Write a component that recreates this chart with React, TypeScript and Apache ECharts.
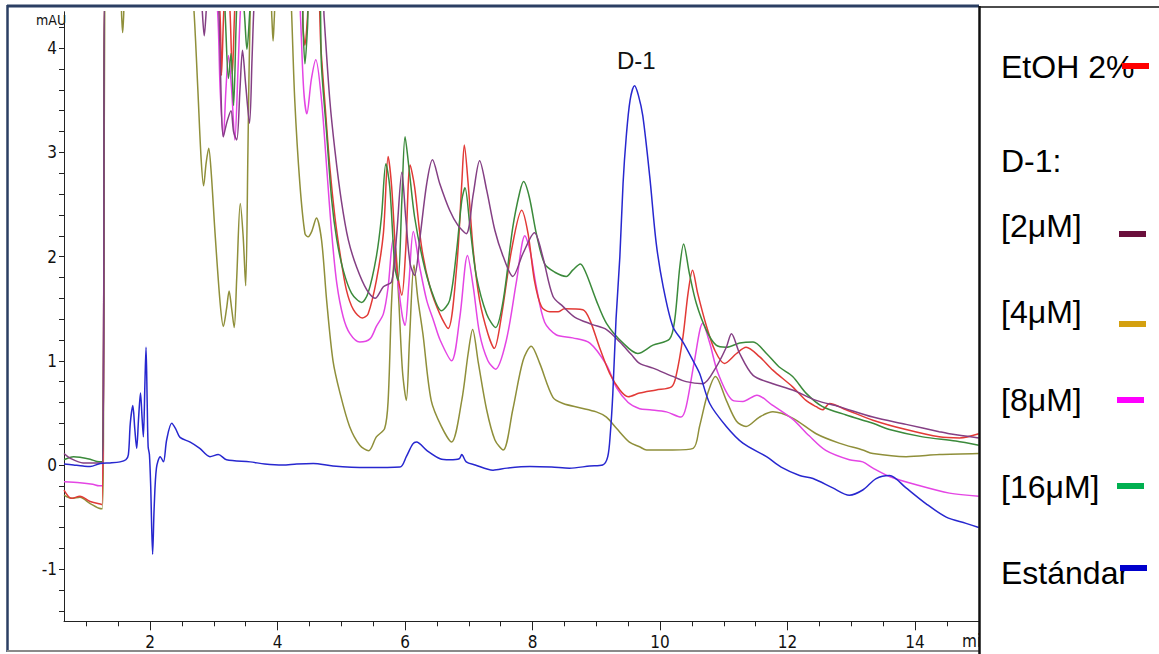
import React, { useEffect, useRef } from "react";
import * as echarts from "echarts";

// Retention time (min) vs absorbance (mAU). Values of 4.6 mark points beyond the top of the axis.
const estandar: number[][] = [
  [0.65, 0.01], [0.8, 0.0], [0.95, -0.01], [1.06, -0.015], [1.22, 0.015], [1.37, 0.02], [1.53, 0.03],
  [1.62, 0.05], [1.66, 0.1], [1.69, 0.4], [1.73, 0.57], [1.76, 0.35], [1.79, 0.16], [1.82, 0.45],
  [1.85, 0.69], [1.875, 0.45], [1.895, 0.27], [1.92, 0.8], [1.937, 1.13], [1.955, 0.6], [1.97, 0.175],
  [1.99, 0.1], [2.01, -0.2], [2.04, -0.857], [2.065, -0.4], [2.1, -0.03], [2.16, 0.08], [2.21, 0.03],
  [2.26, 0.24], [2.34, 0.4], [2.4, 0.35], [2.47, 0.265], [2.63, 0.22], [2.78, 0.16], [2.94, 0.08],
  [3.07, 0.1], [3.2, 0.05], [3.57, 0.03], [3.8, 0.01], [4.08, 0.0], [4.3, 0.01], [4.56, 0.015],
  [4.87, -0.01], [5.4, -0.025], [5.92, -0.02], [6.02, 0.08], [6.12, 0.2], [6.18, 0.22], [6.34, 0.14],
  [6.55, 0.06], [6.7, 0.05], [6.85, 0.06], [6.89, 0.1], [6.96, 0.03], [7.1, 0.0], [7.38, -0.05],
  [7.6, -0.03], [7.96, -0.015], [8.3, -0.02], [8.58, -0.03], [8.9, -0.01], [9.1, 0.0], [9.18, 0.08],
  [9.22, 0.3], [9.26, 0.69], [9.31, 1.4], [9.37, 2.0], [9.42, 2.7], [9.47, 3.15], [9.53, 3.5],
  [9.6, 3.64], [9.66, 3.55], [9.73, 3.35], [9.84, 2.76], [9.94, 2.13], [10.05, 1.71], [10.2, 1.33],
  [10.36, 1.18], [10.52, 1.0], [10.62, 0.88], [10.78, 0.59], [11.04, 0.37], [11.3, 0.21], [11.67, 0.08],
  [11.9, -0.02], [12.19, -0.1], [12.4, -0.13], [12.71, -0.22], [12.97, -0.29], [13.18, -0.24],
  [13.39, -0.13], [13.6, -0.1], [13.86, -0.22], [14.17, -0.37], [14.49, -0.5], [14.8, -0.56], [15.0, -0.6],
];

const etoh: number[][] = [
  [0.65, -0.24], [0.77, -0.32], [0.9, -0.3], [1.06, -0.35], [1.22, -0.375], [1.245, -0.38], [1.27, 1.0],
  [1.29, 4.6], [3.0, 4.6], [3.09, 4.4], [3.12, 3.74], [3.16, 4.4], [3.2, 4.6], [3.25, 4.4], [3.29, 3.75],
  [3.33, 4.4], [3.36, 4.6], [4.38, 4.6], [4.4, 4.2], [4.43, 4.03], [4.47, 4.3], [4.5, 4.6], [4.62, 4.6],
  [4.68, 4.0], [4.74, 3.5], [4.82, 2.86], [4.9, 2.38], [4.98, 2.03], [5.08, 1.68], [5.19, 1.49],
  [5.33, 1.41], [5.42, 1.45], [5.55, 1.77], [5.66, 2.22], [5.735, 2.96], [5.79, 2.67], [5.87, 1.9],
  [5.95, 1.63], [6.01, 2.06], [6.08, 2.88], [6.15, 2.67], [6.26, 2.09], [6.39, 1.71], [6.545, 1.45],
  [6.675, 1.31], [6.81, 1.9], [6.89, 2.7], [6.93, 3.07], [6.99, 2.7], [7.07, 2.06], [7.17, 1.58],
  [7.3, 1.26], [7.4, 1.12], [7.51, 1.42], [7.67, 2.06], [7.83, 2.445], [7.93, 2.22], [8.03, 1.77],
  [8.14, 1.52], [8.27, 1.47], [8.4, 1.47], [8.5, 1.5], [8.79, 1.49], [8.9, 1.39], [9.05, 1.13],
  [9.21, 0.88], [9.37, 0.72], [9.5, 0.655], [9.68, 0.69], [9.94, 0.72], [10.18, 0.75], [10.25, 0.85],
  [10.36, 1.23], [10.44, 1.65], [10.51, 1.87], [10.59, 1.65], [10.73, 1.33], [10.86, 1.1], [11.01, 0.975],
  [11.2, 1.07], [11.35, 1.13], [11.56, 1.04], [11.77, 0.91], [12.08, 0.75], [12.29, 0.62], [12.45, 0.56],
  [12.55, 0.53], [12.66, 0.59], [12.92, 0.53], [13.34, 0.43], [13.86, 0.34], [14.38, 0.27], [14.7, 0.26],
  [15.0, 0.3],
];

const conc2: number[][] = [
  [0.65, 0.11], [0.75, 0.064], [0.95, 0.02], [1.1, 0.02], [1.245, 0.02], [1.27, 1.0], [1.29, 4.6],
  [2.8, 4.6], [2.82, 4.35], [2.85, 4.12], [2.88, 4.35], [2.9, 4.6], [3.05, 4.6], [3.08, 4.35],
  [3.15, 3.15], [3.21, 3.3], [3.27, 3.4], [3.31, 3.2], [3.36, 3.12], [3.41, 3.6], [3.45, 3.98],
  [3.5, 3.65], [3.56, 3.28], [3.6, 3.9], [3.63, 4.4], [3.66, 4.6], [4.7, 4.6], [4.73, 4.3], [4.82, 3.5],
  [4.9, 3.02], [5.0, 2.54], [5.11, 2.16], [5.24, 1.9], [5.4, 1.68], [5.53, 1.6], [5.66, 1.71],
  [5.79, 1.76], [5.87, 2.22], [5.95, 2.81], [6.01, 2.38], [6.08, 1.93], [6.15, 1.82], [6.23, 2.16],
  [6.34, 2.7], [6.43, 2.93], [6.545, 2.7], [6.7, 2.445], [6.83, 2.3], [6.96, 2.22], [7.07, 2.6],
  [7.17, 2.92], [7.28, 2.64], [7.41, 2.25], [7.54, 2.0], [7.69, 1.81], [7.85, 2.03], [8.03, 2.23],
  [8.16, 2.0], [8.32, 1.62], [8.48, 1.52], [8.66, 1.42], [8.93, 1.35], [9.16, 1.3], [9.37, 1.18],
  [9.55, 1.06], [9.68, 0.975], [9.89, 0.93], [10.2, 0.85], [10.41, 0.8], [10.67, 0.78], [10.88, 0.94],
  [11.04, 1.13], [11.12, 1.26], [11.25, 1.07], [11.46, 0.86], [11.77, 0.78], [12.08, 0.72],
  [12.45, 0.62], [12.81, 0.56], [13.34, 0.46], [13.86, 0.39], [14.38, 0.32], [14.54, 0.3], [15.0, 0.26],
];

const conc4: number[][] = [
  [0.65, -0.29], [0.77, -0.32], [0.9, -0.31], [1.06, -0.37], [1.2, -0.415], [1.25, -0.42], [1.27, 0.5],
  [1.29, 4.6], [1.53, 4.6], [1.555, 4.3], [1.57, 4.15], [1.585, 4.3], [1.61, 4.6], [2.65, 4.6],
  [2.69, 4.35], [2.75, 3.6], [2.8, 2.95], [2.84, 2.68], [2.88, 2.9], [2.92, 3.04], [2.96, 2.8],
  [3.02, 2.22], [3.1, 1.55], [3.15, 1.33], [3.2, 1.5], [3.24, 1.67], [3.28, 1.5], [3.32, 1.32],
  [3.36, 1.8], [3.415, 2.51], [3.46, 2.2], [3.5, 1.72], [3.535, 3.0], [3.57, 4.35], [3.6, 4.6],
  [3.88, 4.6], [3.91, 4.3], [3.93, 4.07], [3.95, 4.3], [3.98, 4.6], [4.2, 4.6], [4.22, 4.35],
  [4.27, 3.5], [4.35, 2.7], [4.43, 2.22], [4.48, 2.19], [4.535, 2.24], [4.61, 2.37], [4.69, 2.16],
  [4.77, 1.58], [4.87, 1.0], [4.98, 0.69], [5.13, 0.37], [5.29, 0.19], [5.43, 0.137], [5.55, 0.27],
  [5.68, 0.35], [5.735, 0.62], [5.79, 1.58], [5.85, 2.1], [5.9, 1.6], [5.96, 0.9], [6.02, 0.62],
  [6.07, 1.2], [6.14, 1.92], [6.2, 1.6], [6.28, 1.26], [6.41, 0.62], [6.57, 0.37], [6.73, 0.22],
  [6.89, 0.62], [6.99, 1.07], [7.06, 1.3], [7.15, 0.98], [7.28, 0.53], [7.41, 0.24], [7.54, 0.144],
  [7.69, 0.53], [7.85, 1.0], [7.98, 1.14], [8.11, 0.98], [8.32, 0.65], [8.48, 0.59], [8.74, 0.55],
  [9.0, 0.51], [9.16, 0.46], [9.32, 0.35], [9.52, 0.22], [9.68, 0.175], [9.79, 0.144], [10.2, 0.144],
  [10.52, 0.16], [10.62, 0.37], [10.75, 0.69], [10.87, 0.85], [11.04, 0.62], [11.2, 0.42], [11.35, 0.37],
  [11.56, 0.46], [11.77, 0.51], [12.08, 0.45], [12.45, 0.3], [12.81, 0.21], [13.18, 0.144], [13.34, 0.11],
  [13.86, 0.08], [14.38, 0.1], [15.0, 0.11],
];

const conc8: number[][] = [
  [0.65, -0.16], [0.9, -0.17], [1.1, -0.185], [1.2, -0.2], [1.245, -0.2], [1.27, 1.0], [1.29, 4.6],
  [3.0, 4.6], [3.06, 4.35], [3.1, 3.6], [3.15, 3.15], [3.19, 3.6], [3.23, 3.93], [3.28, 3.6],
  [3.33, 3.12], [3.38, 3.8], [3.42, 4.4], [3.45, 4.6], [4.33, 4.6], [4.36, 4.3], [4.41, 3.6],
  [4.46, 3.37], [4.53, 3.7], [4.6, 3.89], [4.69, 3.5], [4.77, 2.86], [4.85, 2.22], [4.93, 1.74],
  [5.03, 1.42], [5.135, 1.26], [5.29, 1.18], [5.45, 1.21], [5.55, 1.33], [5.66, 1.45], [5.735, 1.71],
  [5.81, 2.16], [5.89, 1.74], [5.96, 1.42], [6.0, 1.34], [6.06, 1.74], [6.13, 2.24], [6.23, 1.9],
  [6.34, 1.58], [6.45, 1.38], [6.55, 1.2], [6.73, 1.0], [6.86, 1.42], [6.98, 2.01], [7.07, 1.71],
  [7.17, 1.26], [7.3, 1.0], [7.42, 0.92], [7.59, 1.2], [7.75, 1.77], [7.88, 2.2], [7.96, 2.06],
  [8.06, 1.71], [8.19, 1.37], [8.37, 1.25], [8.63, 1.22], [8.9, 1.17], [9.16, 0.96], [9.32, 0.74],
  [9.5, 0.6], [9.68, 0.54], [9.84, 0.53], [10.1, 0.51], [10.33, 0.46], [10.41, 0.56], [10.54, 1.0],
  [10.67, 1.36], [10.78, 1.17], [10.91, 0.88], [11.14, 0.62], [11.3, 0.61], [11.52, 0.67], [11.75, 0.58],
  [12.08, 0.44], [12.34, 0.28], [12.6, 0.14], [12.97, 0.05], [13.18, 0.03], [13.34, -0.03], [13.6, -0.11],
  [14.02, -0.19], [14.54, -0.27], [15.0, -0.3],
];

const conc16: number[][] = [
  [0.65, 0.05], [0.8, 0.08], [0.9, 0.074], [1.06, 0.055], [1.2, 0.03], [1.245, 0.03], [1.27, 1.0],
  [1.29, 4.6], [3.15, 4.6], [3.18, 4.3], [3.23, 3.71], [3.27, 3.95], [3.31, 3.45], [3.36, 4.4],
  [3.4, 4.6], [3.47, 4.4], [3.52, 3.99], [3.57, 4.4], [3.6, 4.6], [4.38, 4.6], [4.4, 4.2], [4.43, 3.85],
  [4.47, 4.2], [4.5, 4.6], [4.64, 4.6], [4.69, 3.82], [4.77, 3.18], [4.85, 2.54], [4.93, 2.16],
  [5.03, 1.87], [5.16, 1.65], [5.32, 1.56], [5.42, 1.65], [5.55, 2.0], [5.63, 2.38], [5.7, 2.89],
  [5.76, 2.67], [5.84, 1.9], [5.89, 1.77], [5.95, 2.54], [6.0, 3.15], [6.06, 2.86], [6.15, 2.38],
  [6.28, 1.965], [6.41, 1.68], [6.57, 1.48], [6.7, 1.58], [6.81, 2.06], [6.89, 2.54], [6.94, 2.66],
  [7.02, 2.28], [7.12, 1.81], [7.28, 1.45], [7.42, 1.32], [7.54, 1.58], [7.69, 2.28], [7.8, 2.62],
  [7.86, 2.72], [7.95, 2.57], [8.06, 2.22], [8.19, 1.93], [8.35, 1.85], [8.53, 1.81], [8.63, 1.87],
  [8.75, 1.93], [8.84, 1.84], [9.0, 1.58], [9.16, 1.36], [9.42, 1.17], [9.65, 1.07], [9.89, 1.15],
  [10.15, 1.21], [10.23, 1.39], [10.31, 1.9], [10.37, 2.12], [10.46, 1.84], [10.57, 1.55], [10.73, 1.29],
  [10.88, 1.15], [11.04, 1.13], [11.25, 1.17], [11.46, 1.18], [11.67, 1.07], [11.87, 0.94], [12.08, 0.85],
  [12.29, 0.69], [12.55, 0.56], [12.92, 0.48], [13.34, 0.4], [13.6, 0.34], [14.12, 0.27], [14.64, 0.23],
  [15.0, 0.19],
];

const xMajorTicks = [2, 4, 6, 8, 10, 12, 14];
const xMinorTicks = [1, 1.5, 2, 2.5, 3, 3.5, 4, 4.5, 5, 5.5, 6, 6.5, 7, 7.5, 8, 8.5, 9, 9.5, 10, 10.5, 11, 11.5, 12, 12.5, 13, 13.5, 14, 14.5];
const yLabels = [-1, 0, 1, 2, 3, 4];
const yTicks = [-1.4, -1.2, -1, -0.8, -0.6, -0.4, -0.2, 0, 0.2, 0.4, 0.6, 0.8, 1, 1.2, 1.4, 1.6, 1.8, 2, 2.2, 2.4, 2.6, 2.8, 3, 3.2, 3.4, 3.6, 3.8, 4, 4.2];

const legendLabels = ["EtOH 2%", "D-1:", "[2μM]", "[4μM]", "[8μM]", "[16μM]", "Estándar"];
const legendSwatchColors = ["#ff0000", null, "#6b0f3c", "#d4a00f", "#ff00ff", "#00b050", "#0000cc"];

// layout (pixels)
const legendTextY = [69, 163, 228, 314, 402, 489, 575];
const legendSwatchX = [1122, 0, 1119, 1119, 1117, 1117, 1120];
const legendSwatchY = [63, 0, 231, 321, 397, 483, 565];

const narrowFont = "'Liberation Sans Narrow', 'Arial Narrow', 'DejaVu Sans Condensed', 'Liberation Sans', sans-serif";
const sansFont = "'Liberation Sans', Arial, sans-serif";

export default function App() {
  const ref = useRef<HTMLDivElement>(null);

  useEffect(() => {
    const chart = echarts.init(ref.current!, null, { renderer: "svg" });

    const seriesDefs = [
      { name: "[4μM]", data: conc4, color: "#8f8f3a" },
      { name: "[8μM]", data: conc8, color: "#e445e4" },
      { name: "EtOH 2%", data: etoh, color: "#e23a36" },
      { name: "[16μM]", data: conc16, color: "#3b8a3b" },
      { name: "[2μM]", data: conc2, color: "#843f84" },
      { name: "Estándar", data: estandar, color: "#2727cf" },
    ];

    const graphics: any[] = [];
    graphics.push({
      type: "text", left: 36, top: 13,
      style: { text: "mAU", font: `14px ${narrowFont}`, fill: "#111" },
    });
    graphics.push({
      type: "text", left: 962, top: 632,
      style: { text: "min", font: `17px ${narrowFont}`, fill: "#111" },
    });
    graphics.push({
      type: "text", left: 617, top: 48,
      style: { text: "D-1", font: `24px ${sansFont}`, fill: "#111" },
    });
    // frame around the plot
    graphics.push({ type: "line", shape: { x1: 7, y1: 6, x2: 979, y2: 6 }, style: { stroke: "#2b3f63", lineWidth: 3 } });
    graphics.push({ type: "line", shape: { x1: 7.5, y1: 5, x2: 7.5, y2: 652 }, style: { stroke: "#2b3f63", lineWidth: 2.5 } });
    graphics.push({ type: "line", shape: { x1: 7, y1: 651, x2: 979, y2: 651 }, style: { stroke: "#8a8a8a", lineWidth: 2 } });
    // legend panel
    graphics.push({ type: "rect", shape: { x: 980, y: 0, width: 179, height: 654 }, style: { fill: "#ffffff" }, z: 50 });
    graphics.push({ type: "line", shape: { x1: 979.5, y1: 7, x2: 1159, y2: 7 }, style: { stroke: "#111", lineWidth: 1.5 }, z: 51 });
    graphics.push({ type: "line", shape: { x1: 979.5, y1: 6, x2: 979.5, y2: 654 }, style: { stroke: "#111", lineWidth: 2.5 }, z: 51 });
    legendLabels.forEach((label, i) => {
      graphics.push({
        type: "text", left: 1001, top: legendTextY[i] - 18, z: 52,
        style: { text: label, font: `32px ${sansFont}`, fill: "#000" },
      });
      const c = legendSwatchColors[i];
      if (c) {
        graphics.push({
          type: "rect", z: 53,
          shape: { x: legendSwatchX[i], y: legendSwatchY[i], width: 27, height: 6 },
          style: { fill: c },
        });
      }
    });

    chart.setOption({
      animation: false,
      backgroundColor: "#ffffff",
      grid: {
        left: 64, top: 11.73, width: 914.75, height: 609.57,
        containLabel: false, outerBoundsMode: "none",
      },
      xAxis: [
        {
          type: "value", min: 0.65, max: 15, position: "bottom",
          axisLine: { show: true, onZero: false, lineStyle: { color: "#222", width: 1 } },
          axisTick: { show: true, customValues: xMajorTicks, length: 9, lineStyle: { color: "#222" } },
          axisLabel: { show: true, customValues: xMajorTicks, margin: 12, color: "#111", fontSize: 17, fontFamily: narrowFont },
          splitLine: { show: false },
        },
        {
          type: "value", min: 0.65, max: 15, position: "bottom", gridIndex: 0,
          axisLine: { show: false, onZero: false },
          axisTick: { show: true, customValues: xMinorTicks, length: 5, lineStyle: { color: "#222" } },
          axisLabel: { show: false },
          splitLine: { show: false },
        },
      ],
      yAxis: {
        type: "value", min: -1.5, max: 4.35,
        axisLine: { show: true, onZero: false, lineStyle: { color: "#222", width: 1 } },
        axisTick: { show: true, customValues: yTicks, length: 5, lineStyle: { color: "#222" } },
        axisLabel: { show: true, customValues: yLabels, margin: 7, color: "#111", fontSize: 17, fontFamily: narrowFont },
        splitLine: { show: false },
      },
      series: seriesDefs.map((s) => ({
        name: s.name,
        type: "line",
        xAxisIndex: 0,
        data: s.data,
        showSymbol: false,
        symbol: "none",
        smooth: 0.3,
        clip: true,
        lineStyle: { color: s.color, width: 1.5 },
        itemStyle: { color: s.color },
      })),
      graphic: graphics,
    });

    return () => chart.dispose();
  }, []);

  return <div ref={ref} style={{ position: "absolute", left: 0, top: 0, width: 1159, height: 654 }} />;
}
